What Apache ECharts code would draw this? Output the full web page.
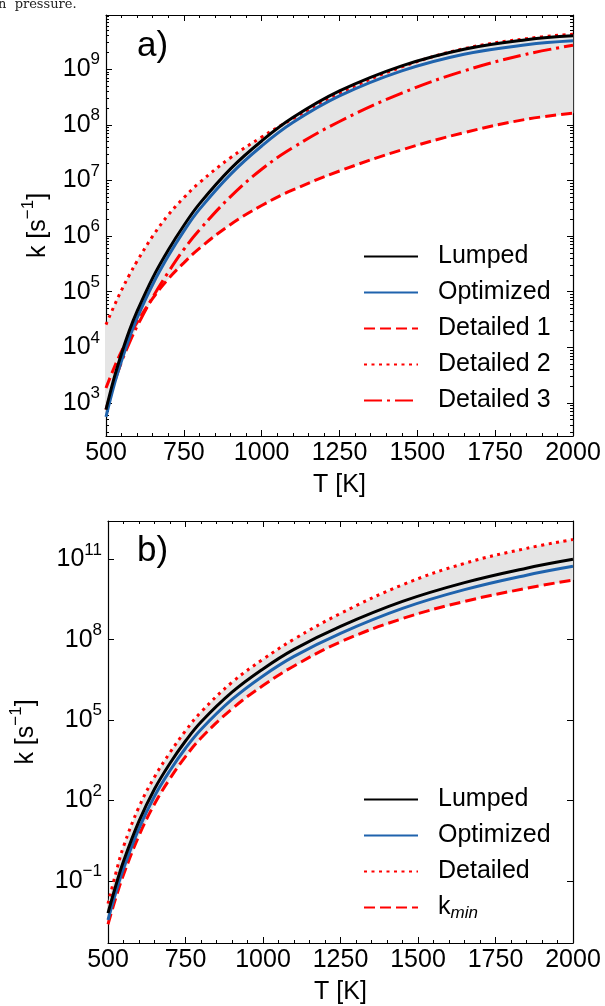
<!DOCTYPE html>
<html>
<head>
<meta charset="utf-8">
<script src="https://cdn.jsdelivr.net/npm/echarts@6/dist/echarts.min.js"></script>
<style>
html,body{margin:0;padding:0;background:#fff;}
#chart{width:605px;height:1006px;}
</style>
</head>
<body>
<div id="chart"></div>
<script>
// ---------- DATA ----------
// Panel a) temperatures [K] and rate constants k [s^-1]
const T_A = [500, 525, 550, 575, 600, 650, 700, 750, 800, 900, 1000, 1100, 1250, 1450, 1650, 1850, 2000];
const lumpedA    = [760, 2.69e3, 7.76e3, 2.0e4, 4.47e4, 1.78e5, 5.62e5, 1.55e6, 3.8e6, 1.62e7, 5.13e7, 1.35e8, 4.07e8, 1.15e9, 2.29e9, 3.39e9, 3.98e9];
const optimizedA = [562, 2.0e3, 5.75e3, 1.48e4, 3.39e4, 1.35e5, 4.37e5, 1.23e6, 3.02e6, 1.29e7, 4.17e7, 1.1e8, 3.31e8, 9.33e8, 1.86e9, 2.75e9, 3.24e9];
const detailed1A = [1.86e3, 4.17e3, 8.51e3, 1.58e4, 2.82e4, 7.59e4, 1.7e5, 3.31e5, 6.03e5, 1.62e6, 3.55e6, 6.76e6, 1.48e7, 3.55e7, 7.24e7, 1.26e8, 1.62e8];
const detailed2A = [2.57e4, 5.37e4, 1.07e5, 2.0e5, 3.55e5, 1.0e6, 2.4e6, 4.9e6, 9.12e6, 2.57e7, 6.03e7, 1.29e8, 3.72e8, 1.1e9, 2.34e9, 3.55e9, 4.27e9];
const detailed3A = [760, 2.19e3, 5.5e3, 1.2e4, 2.4e4, 7.94e4, 2.24e5, 5.75e5, 1.29e6, 5.13e6, 1.59e7, 3.89e7, 1.15e8, 3.72e8, 9.33e8, 1.86e9, 2.69e9];

// Panel b)
const T_B = [500, 525, 550, 600, 650, 700, 750, 800, 900, 1000, 1100, 1250, 1450, 1650, 1850, 2000];
const lumpedB    = [6.3e-3, 0.066, 0.537, 17.0, 269, 2.46e3, 1.66e4, 8.5e4, 1.1e6, 8.13e6, 4.37e7, 3.16e8, 2.69e9, 1.35e10, 4.68e10, 1.0e11];
const optimizedB = [3.47e-3, 0.0363, 0.288, 9.12, 145, 1.32e3, 8.9e3, 4.47e4, 5.89e5, 4.47e6, 2.4e7, 1.74e8, 1.48e9, 7.41e9, 2.57e10, 5.5e10];
const detailedB  = [0.0141, 0.19, 1.91, 57.5, 759, 6.17e3, 3.98e4, 2.0e5, 2.57e6, 1.86e7, 1.05e8, 9.55e8, 1.12e10, 7.08e10, 2.57e11, 5.5e11];
const kminB      = [2.4e-3, 0.0229, 0.170, 4.9, 74.1, 661, 4.37e3, 2.14e4, 2.63e5, 1.95e6, 1.05e7, 8.32e7, 6.17e8, 2.69e9, 8.32e9, 1.7e10];

// Axis ticks
const X_MIN = 500, X_MAX = 2000, X_STEP = 250;
const A_Y_MIN = 255, A_Y_MAX = 9.44e9;
const A_Y_MAJOR = [1e3, 1e4, 1e5, 1e6, 1e7, 1e8, 1e9];
const A_Y_MINOR_MULT = [2, 3, 4, 5, 6, 7, 8, 9];
const A_Y_MINOR_DECADES = [1e2, 1e3, 1e4, 1e5, 1e6, 1e7, 1e8, 1e9];
const B_Y_MIN = 4.8e-4, B_Y_MAX = 2.7e12;
const B_Y_MAJOR = [1e-1, 1e2, 1e5, 1e8, 1e11];

const LEGEND_A = ['Lumped', 'Optimized', 'Detailed 1', 'Detailed 2', 'Detailed 3'];
const LEGEND_B = ['Lumped', 'Optimized', 'Detailed', 'kmin'];

// ---------- STYLE ----------
const FONT = 'Liberation Sans';
const RED = '#ff0000', BLUE = '#1f63ad', BLACK = '#000000';
const DASH = [11, 5], DOT = [3, 4.5], DASHDOT = [18, 5, 3, 5];
const LW = 3;

const A_MINOR = [];
A_Y_MINOR_DECADES.forEach(d => A_Y_MINOR_MULT.forEach(m => {
  const v = d * m; if (v > A_Y_MIN && v < A_Y_MAX) A_MINOR.push(v);
}));

function pow10Label(v) {
  const e = Math.round(Math.log10(v));
  const s = e < 0 ? '\u2212' + (-e) : String(e);
  return '{b|10}{s|' + s + '}';
}
const powRich = {
  b: {fontSize: 25, fontFamily: FONT, color: '#000', lineHeight: 36},
  s: {fontSize: 17, fontFamily: FONT, color: '#000', lineHeight: 16, verticalAlign: 'top'}
};

const grids = [
  {left: 106, top: 15, width: 467, height: 421},
  {left: 106, top: 521, width: 467, height: 422}
];

function xAxes(gi) {
  const base = {
    type: 'value', gridIndex: gi, min: X_MIN, max: X_MAX, interval: X_STEP,
    splitLine: {show: false},
    axisLine: {show: true, onZero: false, lineStyle: {color: '#000', width: 1.2}},
    axisTick: {show: true, inside: true, length: 6, lineStyle: {color: '#000', width: 1}},
    minorTick: {show: true, splitNumber: 5, length: 3, lineStyle: {color: '#000', width: 1}},
  };
  return [
    Object.assign({}, base, {
      position: 'bottom',
      name: 'T [K]', nameLocation: 'middle', nameGap: 37,
      nameTextStyle: {fontSize: 25, fontFamily: FONT, color: '#000'},
      axisLabel: {show: true, margin: 5, fontSize: 25, fontFamily: FONT, color: '#000',
                  formatter: v => String(v)}
    }),
    Object.assign({}, base, {position: 'top', axisLabel: {show: false}})
  ];
}

function yAxisBase(gi, min, max, pos) {
  return {
    type: 'log', logBase: 10, gridIndex: gi, min: min, max: max, position: pos,
    splitLine: {show: false}, minorTick: {show: false},
    axisLine: {show: true, onZero: false, lineStyle: {color: '#000', width: 1.2}},
  };
}

const nameRich = {
  a: {fontSize: 25, fontFamily: FONT, color: '#000', lineHeight: 36},
  s: {fontSize: 17, fontFamily: FONT, color: '#000', lineHeight: 16, verticalAlign: 'top'}
};

const yAxes = [];
// panel a: left main
yAxes.push(Object.assign(yAxisBase(0, A_Y_MIN, A_Y_MAX, 'left'), {
  name: '{a|k [s}{s|\u22121}{a|]}', nameLocation: 'middle', nameGap: 50,
  nameTextStyle: {rich: nameRich},
  axisTick: {show: true, inside: true, length: 6, customValues: A_Y_MAJOR, lineStyle: {color: '#000', width: 1}},
  axisLabel: {show: true, margin: 6, customValues: A_Y_MAJOR, formatter: pow10Label, rich: powRich}
}));
// panel a: right major ticks
yAxes.push(Object.assign(yAxisBase(0, A_Y_MIN, A_Y_MAX, 'right'), {
  axisTick: {show: true, inside: true, length: 6, customValues: A_Y_MAJOR, lineStyle: {color: '#000', width: 1}},
  axisLabel: {show: false}
}));
// panel a: minor ticks left / right
yAxes.push(Object.assign(yAxisBase(0, A_Y_MIN, A_Y_MAX, 'left'), {
  axisLine: {show: false},
  axisTick: {show: true, inside: true, length: 3, customValues: A_MINOR, lineStyle: {color: '#000', width: 1}},
  axisLabel: {show: false}
}));
yAxes.push(Object.assign(yAxisBase(0, A_Y_MIN, A_Y_MAX, 'right'), {
  axisLine: {show: false},
  axisTick: {show: true, inside: true, length: 3, customValues: A_MINOR, lineStyle: {color: '#000', width: 1}},
  axisLabel: {show: false}
}));
// panel b: left main
yAxes.push(Object.assign(yAxisBase(1, B_Y_MIN, B_Y_MAX, 'left'), {
  name: '{a|k [s}{s|\u22121}{a|]}', nameLocation: 'middle', nameGap: 64,
  nameTextStyle: {rich: nameRich},
  axisTick: {show: true, inside: true, length: 6, customValues: B_Y_MAJOR, lineStyle: {color: '#000', width: 1}},
  axisLabel: {show: true, margin: 6, customValues: B_Y_MAJOR, formatter: pow10Label, rich: powRich}
}));
// panel b: right
yAxes.push(Object.assign(yAxisBase(1, B_Y_MIN, B_Y_MAX, 'right'), {
  axisTick: {show: true, inside: true, length: 6, customValues: B_Y_MAJOR, lineStyle: {color: '#000', width: 1}},
  axisLabel: {show: false}
}));

function lineSeries(name, T, vals, xi, yi, color, type) {
  return {
    type: 'line', name: name, xAxisIndex: xi, yAxisIndex: yi,
    data: T.map((t, i) => [t, vals[i]]),
    symbol: 'none', smooth: 0.4, z: 3, silent: true,
    lineStyle: {color: color, width: LW, type: type, cap: 'butt'},
    itemStyle: {color: color}
  };
}

function bandSeries(T, list, xi, yi) {
  const lo = T.map((t, i) => Math.min.apply(null, list.map(s => s[i])));
  const hi = T.map((t, i) => Math.max.apply(null, list.map(s => s[i])));
  return {
    type: 'custom', xAxisIndex: xi, yAxisIndex: yi, z: 1, silent: true,
    data: T.map((t, i) => [t, lo[i], hi[i]]),
    encode: {x: 0, y: [1, 2]},
    renderItem: function (params, api) {
      if (params.dataIndex !== 0) return null;
      const pts = [];
      for (let i = 0; i < T.length; i++) pts.push(api.coord([T[i], hi[i]]));
      for (let i = T.length - 1; i >= 0; i--) pts.push(api.coord([T[i], lo[i]]));
      return {type: 'polygon', shape: {points: pts}, style: {fill: '#e5e5e5', stroke: '#e5e5e5', lineWidth: 0.5}};
    }
  };
}

const series = [
  bandSeries(T_A, [lumpedA, optimizedA, detailed1A, detailed2A, detailed3A], 0, 0),
  lineSeries('Detailed 1', T_A, detailed1A, 0, 0, RED, DASH),
  lineSeries('Detailed 2', T_A, detailed2A, 0, 0, RED, DOT),
  lineSeries('Detailed 3', T_A, detailed3A, 0, 0, RED, DASHDOT),
  lineSeries('Optimized', T_A, optimizedA, 0, 0, BLUE, 'solid'),
  lineSeries('Lumped', T_A, lumpedA, 0, 0, BLACK, 'solid'),
  bandSeries(T_B, [lumpedB, optimizedB, detailedB, kminB], 2, 4),
  lineSeries('Detailed', T_B, detailedB, 2, 4, RED, DOT),
  lineSeries('kmin', T_B, kminB, 2, 4, RED, DASH),
  lineSeries('Optimized', T_B, optimizedB, 2, 4, BLUE, 'solid'),
  lineSeries('Lumped', T_B, lumpedB, 2, 4, BLACK, 'solid')
];

const legendRich = {
  g: {width: 15},
  t: {fontSize: 25, fontFamily: FONT, color: '#000', lineHeight: 28},
  m: {fontSize: 17, fontFamily: FONT, fontStyle: 'italic', color: '#000', lineHeight: 17, verticalAlign: 'bottom'}
};
function legendFmt(name) {
  if (name === 'kmin') return '{g|}{t|k}{m|min}';
  return '{g|}{t|' + name + '}';
}
function legend(data, top) {
  return {
    data: data, orient: 'vertical', left: 363, top: top, padding: 0,
    itemWidth: 54, itemHeight: 16, itemGap: 11, selectedMode: false,
    itemStyle: {color: 'transparent', borderWidth: 0, opacity: 0},
    formatter: legendFmt,
    textStyle: {fontSize: 25, fontFamily: FONT, color: '#000', rich: legendRich}
  };
}

const chart = echarts.init(document.getElementById('chart'), null, {renderer: 'canvas'});
chart.setOption({
  animation: false,
  backgroundColor: '#fff',
  grid: grids,
  xAxis: xAxes(0).concat(xAxes(1)),
  yAxis: yAxes,
  legend: [legend(LEGEND_A, 244), legend(LEGEND_B, 787)],
  series: series,
  graphic: [
    {type: 'text', left: -2, top: -2, style: {text: 'n  pressure.', fontFamily: 'DejaVu Serif', fontSize: 13, fill: '#222'}},
    {type: 'text', left: 137, top: 29, style: {text: 'a)', fontFamily: FONT, fontSize: 35, fill: '#000'}},
    {type: 'text', left: 137, top: 534, style: {text: 'b)', fontFamily: FONT, fontSize: 35, fill: '#000'}}
  ]
});
</script>
</body>
</html>
